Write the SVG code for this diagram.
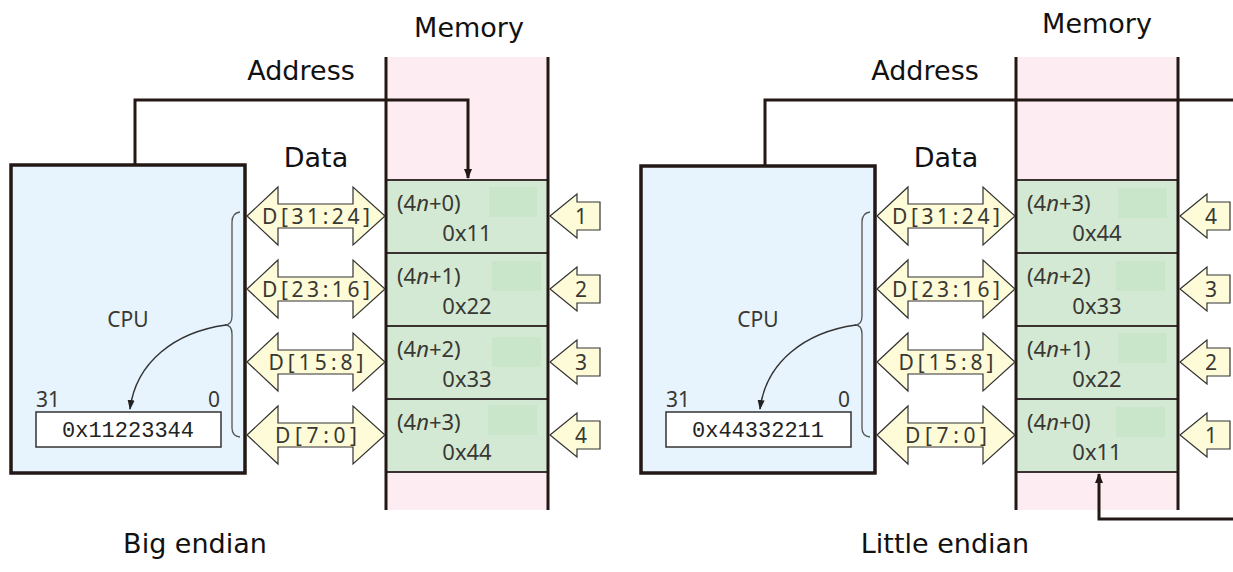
<svg xmlns="http://www.w3.org/2000/svg" width="1233" height="572" viewBox="0 0 1233 572">
<style>
.title{font-family:"DejaVu Sans","Liberation Sans",sans-serif;font-size:27px;fill:#111}
.lbl{font-family:"Noto Sans","Liberation Sans",sans-serif;font-size:21px;fill:#3a3833}
.cell{font-family:"Noto Sans","Liberation Sans",sans-serif;font-size:22px;fill:#3a3833}
.mono{font-family:"Liberation Mono",monospace;font-size:22px;fill:#222}
.wire{fill:none;stroke:#231815;stroke-width:3}
.cpu{fill:#e7f4fd;stroke:#231815;stroke-width:3.5}
.mem{fill:#fdedf2}
.memside{stroke:#231815;stroke-width:3}
.cellbox{fill:#d4e9d4;stroke:#3a3230;stroke-width:2}
.patch{fill:#c9e6cb}
.dbl{fill:#fefbd8;stroke:#333;stroke-width:1.2}
.reg{fill:#fff;stroke:#333;stroke-width:1.5}
.brace{fill:none;stroke:#555;stroke-width:1.3}
.curve{fill:none;stroke:#333;stroke-width:1.5}
</style>
<defs>
<marker id="ah" markerWidth="10" markerHeight="10" refX="9" refY="5" orient="auto" markerUnits="userSpaceOnUse">
<path d="M0,1 L10,5 L0,9 Z" fill="#231815"/>
</marker>
<marker id="ah2" markerWidth="10" markerHeight="10" refX="9" refY="5" orient="auto" markerUnits="userSpaceOnUse">
<path d="M0,1.5 L10,5 L0,8.5 Z" fill="#222"/>
</marker>
<path id="dblarrow" d="M0,0 L31,-29 L31,-12 L106,-12 L106,-29 L138,0 L106,29 L106,12 L31,12 L31,29 Z"/>
<path id="numarrow" d="M0,0 L27,-22 L27,-14 L50,-14 L50,14 L27,14 L27,22 Z"/>
</defs>

<!-- ================= BIG ENDIAN ================= -->
<g id="big-memory">
<rect class="mem" x="386" y="57" width="162" height="453"/>
<text class="title" x="469" y="37" text-anchor="middle">Memory</text>
</g>
<g id="big-cell0">
<rect class="cellbox" x="386" y="180" width="162" height="73"/>
<rect class="patch" x="489" y="187" width="48" height="30"/>
<text class="cell" x="397" y="211">(4<tspan font-style="italic">n</tspan>+0)</text>
<text class="cell" x="467" y="241" text-anchor="middle">0x11</text>
</g>
<g id="big-cell1">
<rect class="cellbox" x="386" y="253" width="162" height="73"/>
<rect class="patch" x="492" y="261" width="49" height="30"/>
<text class="cell" x="397" y="284">(4<tspan font-style="italic">n</tspan>+1)</text>
<text class="cell" x="467" y="314" text-anchor="middle">0x22</text>
</g>
<g id="big-cell2">
<rect class="cellbox" x="386" y="326" width="162" height="73"/>
<rect class="patch" x="492" y="337" width="49" height="30"/>
<text class="cell" x="397" y="357">(4<tspan font-style="italic">n</tspan>+2)</text>
<text class="cell" x="467" y="387" text-anchor="middle">0x33</text>
</g>
<g id="big-cell3">
<rect class="cellbox" x="386" y="399" width="162" height="73"/>
<rect class="patch" x="488" y="405" width="49" height="30"/>
<text class="cell" x="397" y="430">(4<tspan font-style="italic">n</tspan>+3)</text>
<text class="cell" x="467" y="460" text-anchor="middle">0x44</text>
</g>
<line class="memside" x1="386" y1="57" x2="386" y2="510"/>
<line class="memside" x1="548" y1="57" x2="548" y2="510"/>

<g id="big-cpu">
<rect class="cpu" x="11" y="165" width="234" height="308"/>
<text class="lbl" x="128" y="327" text-anchor="middle">CPU</text>
<rect class="reg" x="36" y="412" width="185" height="35"/>
<text class="mono" x="128" y="437" text-anchor="middle">0x11223344</text>
<text class="lbl" x="36" y="407">31</text>
<text class="lbl" x="220" y="407" text-anchor="end">0</text>
</g>

<g id="big-bus">
<g transform="translate(247,216)"><use href="#dblarrow" class="dbl"/><text class="lbl" x="69" y="8" text-anchor="middle" textLength="108" lengthAdjust="spacing">D[31:24]</text></g>
<g transform="translate(247,289)"><use href="#dblarrow" class="dbl"/><text class="lbl" x="69" y="8" text-anchor="middle" textLength="108" lengthAdjust="spacing">D[23:16]</text></g>
<g transform="translate(247,362)"><use href="#dblarrow" class="dbl"/><text class="lbl" x="69" y="8" text-anchor="middle" textLength="95" lengthAdjust="spacing">D[15:8]</text></g>
<g transform="translate(247,435)"><use href="#dblarrow" class="dbl"/><text class="lbl" x="69" y="8" text-anchor="middle" textLength="82" lengthAdjust="spacing">D[7:0]</text></g>
</g>

<g id="big-order">
<g transform="translate(550,216)"><use href="#numarrow" class="dbl"/><text class="lbl" x="31" y="8" text-anchor="middle">1</text></g>
<g transform="translate(550,289)"><use href="#numarrow" class="dbl"/><text class="lbl" x="31" y="8" text-anchor="middle">2</text></g>
<g transform="translate(550,362)"><use href="#numarrow" class="dbl"/><text class="lbl" x="31" y="8" text-anchor="middle">3</text></g>
<g transform="translate(550,435)"><use href="#numarrow" class="dbl"/><text class="lbl" x="31" y="8" text-anchor="middle">4</text></g>
</g>

<g id="big-connectors">
<path class="wire" d="M135,165 L135,100 L468,100 L468,178" marker-end="url(#ah)"/>
<path class="brace" d="M240,212 Q232,213 232,222 L232,316 Q232,325 225,325 Q232,325 232,334 L232,428 Q232,436 240,437"/>
<path class="curve" d="M226,325 C175,332 136,362 130,409" marker-end="url(#ah2)"/>
</g>
<text class="title" x="301" y="80" text-anchor="middle">Address</text>
<text class="title" x="316" y="167" text-anchor="middle">Data</text>
<text class="title" x="195" y="553" text-anchor="middle">Big endian</text>

<!-- ================= LITTLE ENDIAN ================= -->
<g id="little-memory">
<rect class="mem" x="1016" y="57" width="162" height="453"/>
<text class="title" x="1097" y="33" text-anchor="middle">Memory</text>
</g>
<g id="little-cell3">
<rect class="cellbox" x="1016" y="180" width="162" height="73"/>
<rect class="patch" x="1118" y="188" width="49" height="30"/>
<text class="cell" x="1027" y="211">(4<tspan font-style="italic">n</tspan>+3)</text>
<text class="cell" x="1097" y="241" text-anchor="middle">0x44</text>
</g>
<g id="little-cell2">
<rect class="cellbox" x="1016" y="253" width="162" height="73"/>
<rect class="patch" x="1116" y="261" width="49" height="30"/>
<text class="cell" x="1027" y="284">(4<tspan font-style="italic">n</tspan>+2)</text>
<text class="cell" x="1097" y="314" text-anchor="middle">0x33</text>
</g>
<g id="little-cell1">
<rect class="cellbox" x="1016" y="326" width="162" height="73"/>
<rect class="patch" x="1118" y="333" width="49" height="30"/>
<text class="cell" x="1027" y="357">(4<tspan font-style="italic">n</tspan>+1)</text>
<text class="cell" x="1097" y="387" text-anchor="middle">0x22</text>
</g>
<g id="little-cell0">
<rect class="cellbox" x="1016" y="399" width="162" height="73"/>
<rect class="patch" x="1116" y="407" width="49" height="30"/>
<text class="cell" x="1027" y="430">(4<tspan font-style="italic">n</tspan>+0)</text>
<text class="cell" x="1097" y="460" text-anchor="middle">0x11</text>
</g>
<line class="memside" x1="1016" y1="57" x2="1016" y2="510"/>
<line class="memside" x1="1178" y1="57" x2="1178" y2="510"/>

<g id="little-cpu">
<rect class="cpu" x="641" y="166" width="234" height="307"/>
<text class="lbl" x="758" y="327" text-anchor="middle">CPU</text>
<rect class="reg" x="666" y="412" width="185" height="35"/>
<text class="mono" x="758" y="437" text-anchor="middle">0x44332211</text>
<text class="lbl" x="666" y="407">31</text>
<text class="lbl" x="850" y="407" text-anchor="end">0</text>
</g>

<g id="little-bus">
<g transform="translate(877,216)"><use href="#dblarrow" class="dbl"/><text class="lbl" x="69" y="8" text-anchor="middle" textLength="108" lengthAdjust="spacing">D[31:24]</text></g>
<g transform="translate(877,289)"><use href="#dblarrow" class="dbl"/><text class="lbl" x="69" y="8" text-anchor="middle" textLength="108" lengthAdjust="spacing">D[23:16]</text></g>
<g transform="translate(877,362)"><use href="#dblarrow" class="dbl"/><text class="lbl" x="69" y="8" text-anchor="middle" textLength="95" lengthAdjust="spacing">D[15:8]</text></g>
<g transform="translate(877,435)"><use href="#dblarrow" class="dbl"/><text class="lbl" x="69" y="8" text-anchor="middle" textLength="82" lengthAdjust="spacing">D[7:0]</text></g>
</g>

<g id="little-order">
<g transform="translate(1180,216)"><use href="#numarrow" class="dbl"/><text class="lbl" x="31" y="8" text-anchor="middle">4</text></g>
<g transform="translate(1180,289)"><use href="#numarrow" class="dbl"/><text class="lbl" x="31" y="8" text-anchor="middle">3</text></g>
<g transform="translate(1180,362)"><use href="#numarrow" class="dbl"/><text class="lbl" x="31" y="8" text-anchor="middle">2</text></g>
<g transform="translate(1180,435)"><use href="#numarrow" class="dbl"/><text class="lbl" x="31" y="8" text-anchor="middle">1</text></g>
</g>

<g id="little-connectors">
<path class="wire" d="M765,166 L765,100 L1233,100"/>
<path class="wire" d="M1233,519 L1099,519 L1099,474" marker-end="url(#ah)"/>
<path class="brace" d="M870,212 Q862,213 862,222 L862,316 Q862,325 855,325 Q862,325 862,334 L862,428 Q862,436 870,437"/>
<path class="curve" d="M856,325 C805,332 766,362 760,409" marker-end="url(#ah2)"/>
</g>
<text class="title" x="925" y="80" text-anchor="middle">Address</text>
<text class="title" x="946" y="167" text-anchor="middle">Data</text>
<text class="title" x="945" y="553" text-anchor="middle">Little endian</text>
</svg>
